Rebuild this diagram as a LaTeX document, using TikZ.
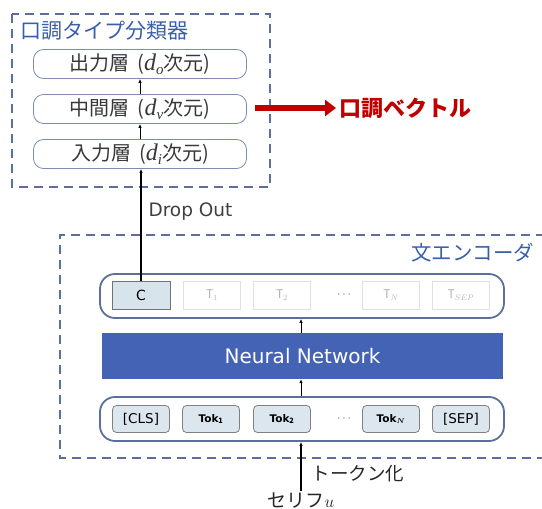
\documentclass[tikz,border=0pt]{standalone}
\usepackage{amsmath}
\usepackage{fontspec}
\setmainfont{Noto Sans CJK JP}
\newfontfamily\latf{DejaVu Sans}
\newfontfamily\serf{Liberation Serif}
\usetikzlibrary{arrows.meta}
\definecolor{dashblue}{HTML}{5C6F9C}
\definecolor{titleblue}{HTML}{3A5FA8}
\definecolor{nnblue}{HTML}{4463B5}
\definecolor{darkred}{HTML}{C00000}
\definecolor{cfill}{HTML}{D8E4EC}
\definecolor{tokfill}{HTML}{DCE6EE}
\newcommand{\laydim}[1]{{\serf\itshape\fontsize{24}{26}\selectfont d}\raisebox{-4pt}{\serf\itshape\fontsize{15}{16}\selectfont #1}}
\tikzset{
  dashbox/.style={draw=dashblue, line width=1.6pt, dash pattern=on 9pt off 6pt},
  layer/.style={draw=dashblue!80, line width=0.8pt, rounded corners=10pt, minimum width=213pt, minimum height=29pt, inner sep=0pt, font=\fontsize{20}{22}\selectfont, text=black!78},
  smallarrow/.style={-{Latex[length=4pt,width=3.5pt]}, line width=0.9pt},
  rowbox/.style={draw=dashblue, line width=1.8pt, rounded corners=15pt, minimum width=404pt, minimum height=44pt, inner sep=0pt},
  cbox/.style={draw=black!55, line width=0.8pt, fill=cfill, minimum width=58pt, minimum height=28pt, inner sep=0pt, font=\latf\fontsize{14}{16}\selectfont},
  tbox/.style={draw=black!12, line width=0.8pt, minimum width=57pt, minimum height=28pt, inner sep=0pt, text=black!30, font=\fontsize{12}{14}\selectfont},
  tokbox/.style={draw=black!50, line width=0.8pt, fill=tokfill, rounded corners=4pt, minimum width=57pt, minimum height=27pt, inner sep=0pt, font=\latf\fontsize{13.5}{15}\selectfont},
  tokb/.style={font=\latf\bfseries\fontsize{10.5}{12}\selectfont},
  dots/.style={text=black!60, font=\fontsize{12}{14}\selectfont},
}
\begin{document}
\begin{tikzpicture}[x=1pt,y=-1pt]
\useasboundingbox (0,0) rectangle (542,509);
% top classifier box
\draw[dashbox] (12,14) rectangle (270,187);
\node[anchor=west, text=titleblue, font=\fontsize{21}{23}\selectfont] (ttl) at (17,31) {口調タイプ分類器};
\node[layer] (out) at (140,64) {出力層\hspace{8pt}(\laydim{o}次元)};
\node[layer] (mid) at (140,109) {中間層\hspace{8pt}(\laydim{v}次元)};
\node[layer] (inp) at (140,154) {入力層\hspace{8pt}(\laydim{i}次元)};
\draw[smallarrow] (mid.north) -- (out.south);
\draw[smallarrow] (inp.north) -- (mid.south);
% red arrow
\coordinate (rs) at (255,108);
\node[anchor=west, text=darkred, font=\bfseries\fontsize{22}{24}\selectfont] (vec) at (336,108) {口調ベクトル};
\draw[darkred, line width=5.5pt, -{Triangle[length=11pt,width=16pt]}] (rs) -- (vec.west);
% encoder box
\draw[dashbox] (545,235) -- (60,235) -- (60,458) -- (545,458);
\node[anchor=east, text=titleblue, font=\fontsize{20.5}{22}\selectfont] (enc) at (538,253) {文エンコーダ};
% output token row
\node[rowbox] (row1) at (302,296) {};
\node[cbox] (c) at (141,295) {C};
\node[tbox] (t1) at (212,295) {$\mathrm{T}_1$};
\node[tbox] (t2) at (282,295) {$\mathrm{T}_2$};
\node[dots] (d1) at (345,295) {$\cdots$};
\node[tbox] (tn) at (391,295) {$\mathrm{T}_N$};
\node[tbox] (tsep) at (461,295) {$\mathrm{T}_{SEP}$};
% neural network
\node[fill=nnblue, minimum width=401pt, minimum height=46pt, inner sep=0pt, text=white, font=\latf\fontsize{20}{22}\selectfont] (nn) at (302.5,356) {Neural Network};
% input token row
\node[rowbox] (row2) at (302,419) {};
\node[tokbox] (cls) at (141,419) {[CLS]};
\node[tokbox, tokb] (tok1) at (211,419) {Tok$_{\mathbf 1}$};
\node[tokbox, tokb] (tok2) at (282,419) {Tok$_{\mathbf 2}$};
\node[dots] (d2) at (345,419) {$\cdots$};
\node[tokbox, tokb] (tokn) at (391,419) {Tok$_{\boldsymbol N}$};
\node[tokbox] (sep) at (461,419) {[SEP]};
% arrows
\draw[smallarrow] (nn.north -| 301,0) -- (row1.south -| 301,0);
\draw[smallarrow] (row2.north -| 301,0) -- (nn.south -| 301,0);
\draw[line width=1.4pt, -{Latex[length=4pt,width=3.5pt]}] (c.north) -- (inp.south -| c.north);
\node[anchor=west, text=black!75, font=\latf\fontsize{18.5}{20}\selectfont] (drop) at (145,212) {Drop Out};
% bottom
\node[anchor=south, inner sep=1pt, font=\fontsize{19}{21}\selectfont, text=black!85] (serif) at (301,509) {セリフ$u$};
\draw[line width=1.4pt, -{Latex[length=4pt,width=3.5pt]}] (serif.north -| 301,0) -- (row2.south -| 301,0);
\node[anchor=west, font=\fontsize{18.5}{20}\selectfont, text=black!85] (tokz) at (308,474) {トークン化};
\end{tikzpicture}
\end{document}
